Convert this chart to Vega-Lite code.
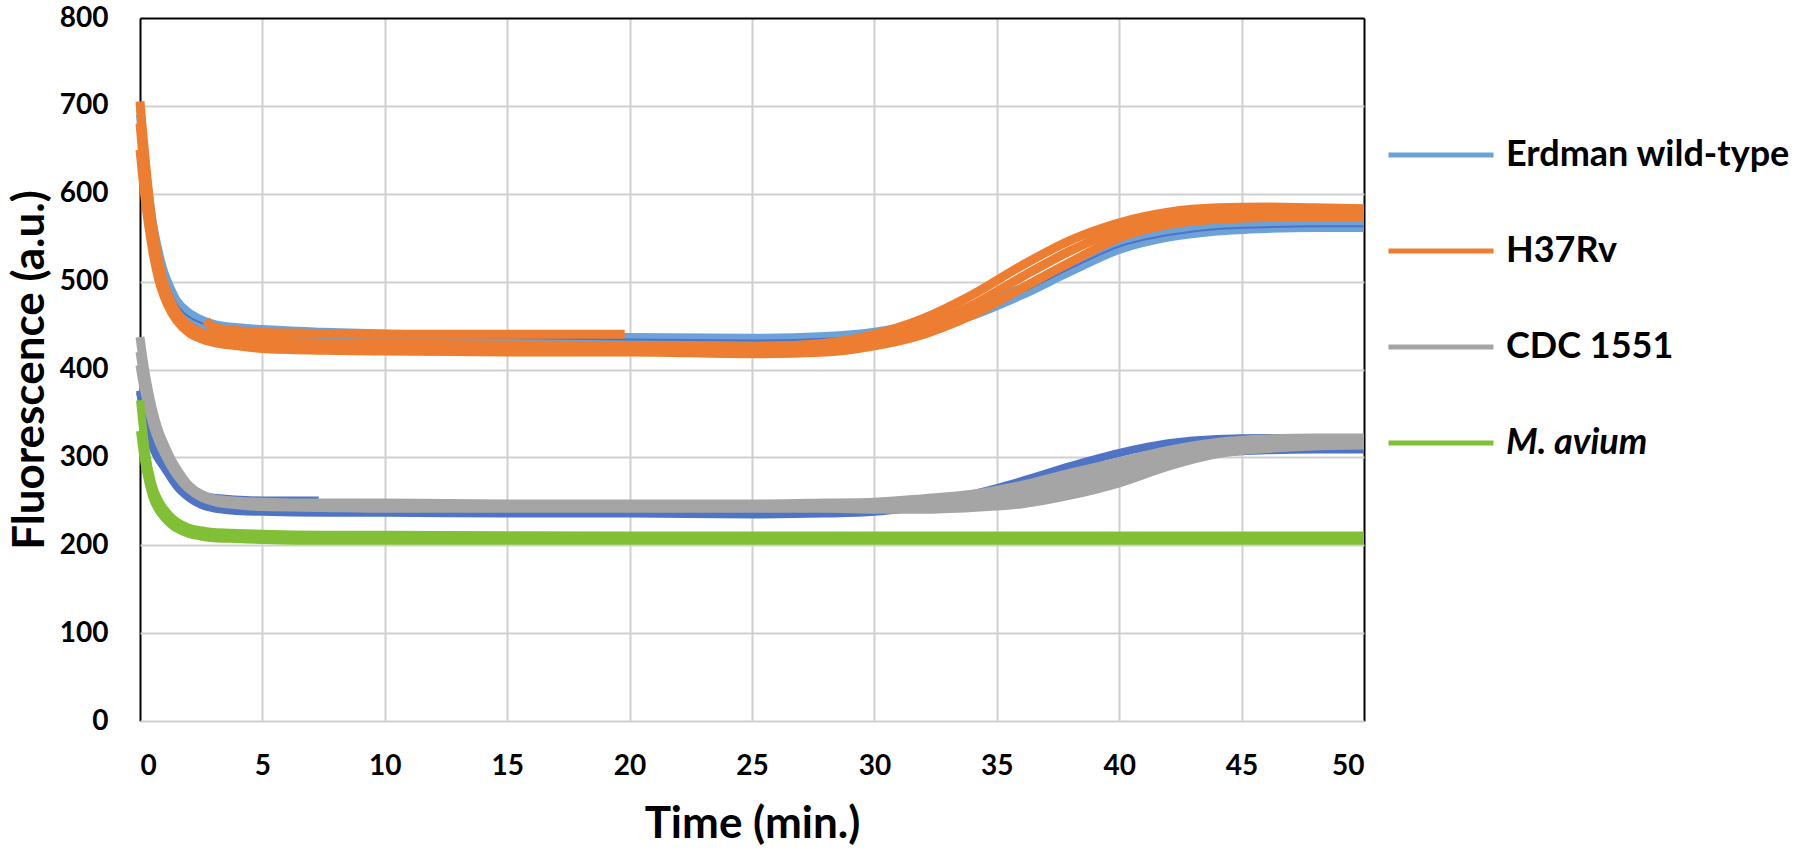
{
  "$schema": "https://vega.github.io/schema/vega-lite/v6.json",
  "width": 1224,
  "height": 703,
  "autosize": "none",
  "padding": {"left": 140, "top": 18, "right": 436, "bottom": 130},
  "background": "white",
  "config": {
    "view": {"stroke": null},
    "font": "Lato",
    "axis": {"labelFont": "Lato", "titleFont": "Lato", "labelFontWeight": "bold", "titleFontWeight": "bold", "labelColor": "#000000", "titleColor": "#000000", "ticks": false, "domain": false, "gridWidth": 2}
  },
  "data": {"values": [
    {"s":"B1","g":"Erdman wild-type","t":0,"v":698},{"s":"B1","g":"Erdman wild-type","t":0.1,"v":668},{"s":"B1","g":"Erdman wild-type","t":0.25,"v":626},{"s":"B1","g":"Erdman wild-type","t":0.5,"v":572},{"s":"B1","g":"Erdman wild-type","t":0.75,"v":536},{"s":"B1","g":"Erdman wild-type","t":1,"v":510},{"s":"B1","g":"Erdman wild-type","t":1.25,"v":493},{"s":"B1","g":"Erdman wild-type","t":1.5,"v":479},{"s":"B1","g":"Erdman wild-type","t":2,"v":465},{"s":"B1","g":"Erdman wild-type","t":2.5,"v":457},{"s":"B1","g":"Erdman wild-type","t":3,"v":452},{"s":"B1","g":"Erdman wild-type","t":4,"v":448},{"s":"B1","g":"Erdman wild-type","t":5,"v":446},{"s":"B1","g":"Erdman wild-type","t":7.5,"v":443},{"s":"B1","g":"Erdman wild-type","t":10,"v":441},{"s":"B1","g":"Erdman wild-type","t":15,"v":439},{"s":"B1","g":"Erdman wild-type","t":20,"v":437},{"s":"B1","g":"Erdman wild-type","t":25,"v":436},{"s":"B1","g":"Erdman wild-type","t":28,"v":438},{"s":"B1","g":"Erdman wild-type","t":30,"v":443},{"s":"B1","g":"Erdman wild-type","t":32,"v":454},{"s":"B1","g":"Erdman wild-type","t":34,"v":470},{"s":"B1","g":"Erdman wild-type","t":36,"v":493},{"s":"B1","g":"Erdman wild-type","t":38,"v":520},{"s":"B1","g":"Erdman wild-type","t":40,"v":544},{"s":"B1","g":"Erdman wild-type","t":42,"v":557},{"s":"B1","g":"Erdman wild-type","t":44,"v":563},{"s":"B1","g":"Erdman wild-type","t":46,"v":565},{"s":"B1","g":"Erdman wild-type","t":48,"v":566},{"s":"B1","g":"Erdman wild-type","t":50,"v":566},
    {"s":"B2","g":"Erdman wild-type","t":0,"v":690},{"s":"B2","g":"Erdman wild-type","t":0.1,"v":658},{"s":"B2","g":"Erdman wild-type","t":0.25,"v":615},{"s":"B2","g":"Erdman wild-type","t":0.5,"v":562},{"s":"B2","g":"Erdman wild-type","t":0.75,"v":526},{"s":"B2","g":"Erdman wild-type","t":1,"v":500},{"s":"B2","g":"Erdman wild-type","t":1.25,"v":483},{"s":"B2","g":"Erdman wild-type","t":1.5,"v":470},{"s":"B2","g":"Erdman wild-type","t":2,"v":456},{"s":"B2","g":"Erdman wild-type","t":2.5,"v":449},{"s":"B2","g":"Erdman wild-type","t":3,"v":445},{"s":"B2","g":"Erdman wild-type","t":4,"v":441},{"s":"B2","g":"Erdman wild-type","t":5,"v":439},{"s":"B2","g":"Erdman wild-type","t":7.5,"v":437},{"s":"B2","g":"Erdman wild-type","t":10,"v":435},{"s":"B2","g":"Erdman wild-type","t":15,"v":433},{"s":"B2","g":"Erdman wild-type","t":20,"v":431},{"s":"B2","g":"Erdman wild-type","t":25,"v":430},{"s":"B2","g":"Erdman wild-type","t":28,"v":432},{"s":"B2","g":"Erdman wild-type","t":30,"v":436},{"s":"B2","g":"Erdman wild-type","t":32,"v":446},{"s":"B2","g":"Erdman wild-type","t":34,"v":461},{"s":"B2","g":"Erdman wild-type","t":36,"v":484},{"s":"B2","g":"Erdman wild-type","t":38,"v":511},{"s":"B2","g":"Erdman wild-type","t":40,"v":536},{"s":"B2","g":"Erdman wild-type","t":42,"v":550},{"s":"B2","g":"Erdman wild-type","t":44,"v":557},{"s":"B2","g":"Erdman wild-type","t":46,"v":560},{"s":"B2","g":"Erdman wild-type","t":48,"v":561},{"s":"B2","g":"Erdman wild-type","t":50,"v":561},
    {"s":"Bd","g":"Replicate set 2","t":0,"v":694},{"s":"Bd","g":"Replicate set 2","t":0.1,"v":663},{"s":"Bd","g":"Replicate set 2","t":0.25,"v":620},{"s":"Bd","g":"Replicate set 2","t":0.5,"v":567},{"s":"Bd","g":"Replicate set 2","t":0.75,"v":531},{"s":"Bd","g":"Replicate set 2","t":1,"v":505},{"s":"Bd","g":"Replicate set 2","t":1.25,"v":488},{"s":"Bd","g":"Replicate set 2","t":1.5,"v":474},{"s":"Bd","g":"Replicate set 2","t":2,"v":460},{"s":"Bd","g":"Replicate set 2","t":2.5,"v":453},{"s":"Bd","g":"Replicate set 2","t":3,"v":448},{"s":"Bd","g":"Replicate set 2","t":4,"v":444},{"s":"Bd","g":"Replicate set 2","t":5,"v":442},{"s":"Bd","g":"Replicate set 2","t":7.5,"v":440},{"s":"Bd","g":"Replicate set 2","t":10,"v":438},{"s":"Bd","g":"Replicate set 2","t":15,"v":436},{"s":"Bd","g":"Replicate set 2","t":20,"v":434},{"s":"Bd","g":"Replicate set 2","t":25,"v":433},{"s":"Bd","g":"Replicate set 2","t":28,"v":435},{"s":"Bd","g":"Replicate set 2","t":30,"v":439},{"s":"Bd","g":"Replicate set 2","t":32,"v":450},{"s":"Bd","g":"Replicate set 2","t":34,"v":465},{"s":"Bd","g":"Replicate set 2","t":36,"v":488},{"s":"Bd","g":"Replicate set 2","t":38,"v":515},{"s":"Bd","g":"Replicate set 2","t":40,"v":540},{"s":"Bd","g":"Replicate set 2","t":42,"v":553},{"s":"Bd","g":"Replicate set 2","t":44,"v":560},{"s":"Bd","g":"Replicate set 2","t":46,"v":562},{"s":"Bd","g":"Replicate set 2","t":48,"v":563},{"s":"Bd","g":"Replicate set 2","t":50,"v":563},
    {"s":"O1","g":"H37Rv","t":0,"v":705},{"s":"O1","g":"H37Rv","t":0.1,"v":672},{"s":"O1","g":"H37Rv","t":0.25,"v":628},{"s":"O1","g":"H37Rv","t":0.5,"v":566},{"s":"O1","g":"H37Rv","t":0.75,"v":525},{"s":"O1","g":"H37Rv","t":1,"v":496},{"s":"O1","g":"H37Rv","t":1.25,"v":478},{"s":"O1","g":"H37Rv","t":1.5,"v":465},{"s":"O1","g":"H37Rv","t":2,"v":450},{"s":"O1","g":"H37Rv","t":2.5,"v":442},{"s":"O1","g":"H37Rv","t":3,"v":438},{"s":"O1","g":"H37Rv","t":4,"v":434},{"s":"O1","g":"H37Rv","t":5,"v":432},{"s":"O1","g":"H37Rv","t":7.5,"v":430},{"s":"O1","g":"H37Rv","t":10,"v":429},{"s":"O1","g":"H37Rv","t":15,"v":428},{"s":"O1","g":"H37Rv","t":20,"v":427},{"s":"O1","g":"H37Rv","t":25,"v":426},{"s":"O1","g":"H37Rv","t":28,"v":430},{"s":"O1","g":"H37Rv","t":30,"v":440},{"s":"O1","g":"H37Rv","t":32,"v":458},{"s":"O1","g":"H37Rv","t":34,"v":485},{"s":"O1","g":"H37Rv","t":36,"v":518},{"s":"O1","g":"H37Rv","t":38,"v":547},{"s":"O1","g":"H37Rv","t":40,"v":567},{"s":"O1","g":"H37Rv","t":42,"v":579},{"s":"O1","g":"H37Rv","t":44,"v":584},{"s":"O1","g":"H37Rv","t":46,"v":585},{"s":"O1","g":"H37Rv","t":48,"v":584},{"s":"O1","g":"H37Rv","t":50,"v":583},
    {"s":"O3","g":"H37Rv","t":0,"v":680},{"s":"O3","g":"H37Rv","t":0.1,"v":648},{"s":"O3","g":"H37Rv","t":0.25,"v":607},{"s":"O3","g":"H37Rv","t":0.5,"v":552},{"s":"O3","g":"H37Rv","t":0.75,"v":514},{"s":"O3","g":"H37Rv","t":1,"v":489},{"s":"O3","g":"H37Rv","t":1.25,"v":472},{"s":"O3","g":"H37Rv","t":1.5,"v":460},{"s":"O3","g":"H37Rv","t":2,"v":446},{"s":"O3","g":"H37Rv","t":2.5,"v":438},{"s":"O3","g":"H37Rv","t":3,"v":434},{"s":"O3","g":"H37Rv","t":4,"v":430},{"s":"O3","g":"H37Rv","t":5,"v":428},{"s":"O3","g":"H37Rv","t":7.5,"v":426},{"s":"O3","g":"H37Rv","t":10,"v":425},{"s":"O3","g":"H37Rv","t":15,"v":424},{"s":"O3","g":"H37Rv","t":20,"v":423},{"s":"O3","g":"H37Rv","t":25,"v":422},{"s":"O3","g":"H37Rv","t":28,"v":425},{"s":"O3","g":"H37Rv","t":30,"v":433},{"s":"O3","g":"H37Rv","t":32,"v":449},{"s":"O3","g":"H37Rv","t":34,"v":473},{"s":"O3","g":"H37Rv","t":36,"v":505},{"s":"O3","g":"H37Rv","t":38,"v":535},{"s":"O3","g":"H37Rv","t":40,"v":559},{"s":"O3","g":"H37Rv","t":42,"v":572},{"s":"O3","g":"H37Rv","t":44,"v":578},{"s":"O3","g":"H37Rv","t":46,"v":579},{"s":"O3","g":"H37Rv","t":48,"v":579},{"s":"O3","g":"H37Rv","t":50,"v":578},
    {"s":"O2","g":"H37Rv","t":0,"v":650},{"s":"O2","g":"H37Rv","t":0.1,"v":622},{"s":"O2","g":"H37Rv","t":0.25,"v":585},{"s":"O2","g":"H37Rv","t":0.5,"v":538},{"s":"O2","g":"H37Rv","t":0.75,"v":504},{"s":"O2","g":"H37Rv","t":1,"v":482},{"s":"O2","g":"H37Rv","t":1.25,"v":467},{"s":"O2","g":"H37Rv","t":1.5,"v":456},{"s":"O2","g":"H37Rv","t":2,"v":442},{"s":"O2","g":"H37Rv","t":2.5,"v":435},{"s":"O2","g":"H37Rv","t":3,"v":431},{"s":"O2","g":"H37Rv","t":4,"v":427},{"s":"O2","g":"H37Rv","t":5,"v":424},{"s":"O2","g":"H37Rv","t":7.5,"v":422},{"s":"O2","g":"H37Rv","t":10,"v":421},{"s":"O2","g":"H37Rv","t":15,"v":420},{"s":"O2","g":"H37Rv","t":20,"v":420},{"s":"O2","g":"H37Rv","t":25,"v":418},{"s":"O2","g":"H37Rv","t":28,"v":420},{"s":"O2","g":"H37Rv","t":30,"v":427},{"s":"O2","g":"H37Rv","t":32,"v":440},{"s":"O2","g":"H37Rv","t":34,"v":462},{"s":"O2","g":"H37Rv","t":36,"v":492},{"s":"O2","g":"H37Rv","t":38,"v":522},{"s":"O2","g":"H37Rv","t":40,"v":550},{"s":"O2","g":"H37Rv","t":42,"v":565},{"s":"O2","g":"H37Rv","t":44,"v":571},{"s":"O2","g":"H37Rv","t":46,"v":573},{"s":"O2","g":"H37Rv","t":48,"v":574},{"s":"O2","g":"H37Rv","t":50,"v":574},
    {"s":"O4","g":"H37Rv","t":2.7,"v":456},{"s":"O4","g":"H37Rv","t":3,"v":448},{"s":"O4","g":"H37Rv","t":4,"v":444},{"s":"O4","g":"H37Rv","t":5,"v":442},{"s":"O4","g":"H37Rv","t":7.5,"v":441},{"s":"O4","g":"H37Rv","t":10,"v":440},{"s":"O4","g":"H37Rv","t":15,"v":440},{"s":"O4","g":"H37Rv","t":19.8,"v":440},
    {"s":"D1","g":"Replicate set 2","t":0,"v":376},{"s":"D1","g":"Replicate set 2","t":0.1,"v":362},{"s":"D1","g":"Replicate set 2","t":0.25,"v":342},{"s":"D1","g":"Replicate set 2","t":0.5,"v":315},{"s":"D1","g":"Replicate set 2","t":0.75,"v":300},{"s":"D1","g":"Replicate set 2","t":1,"v":290},{"s":"D1","g":"Replicate set 2","t":1.25,"v":279},{"s":"D1","g":"Replicate set 2","t":1.5,"v":269},{"s":"D1","g":"Replicate set 2","t":2,"v":256},{"s":"D1","g":"Replicate set 2","t":2.5,"v":248},{"s":"D1","g":"Replicate set 2","t":3,"v":244},{"s":"D1","g":"Replicate set 2","t":4,"v":241},{"s":"D1","g":"Replicate set 2","t":5,"v":240},{"s":"D1","g":"Replicate set 2","t":7.5,"v":239},{"s":"D1","g":"Replicate set 2","t":10,"v":238},{"s":"D1","g":"Replicate set 2","t":15,"v":237},{"s":"D1","g":"Replicate set 2","t":20,"v":237},{"s":"D1","g":"Replicate set 2","t":25,"v":236},{"s":"D1","g":"Replicate set 2","t":28,"v":237},{"s":"D1","g":"Replicate set 2","t":30,"v":240},{"s":"D1","g":"Replicate set 2","t":32,"v":247},{"s":"D1","g":"Replicate set 2","t":34,"v":258},{"s":"D1","g":"Replicate set 2","t":36,"v":273},{"s":"D1","g":"Replicate set 2","t":38,"v":290},{"s":"D1","g":"Replicate set 2","t":40,"v":305},{"s":"D1","g":"Replicate set 2","t":42,"v":316},{"s":"D1","g":"Replicate set 2","t":44,"v":321},{"s":"D1","g":"Replicate set 2","t":46,"v":322},{"s":"D1","g":"Replicate set 2","t":48,"v":322},{"s":"D1","g":"Replicate set 2","t":50,"v":321},
    {"s":"D2","g":"Replicate set 2","t":0,"v":374},{"s":"D2","g":"Replicate set 2","t":0.1,"v":360},{"s":"D2","g":"Replicate set 2","t":0.25,"v":340},{"s":"D2","g":"Replicate set 2","t":0.5,"v":313},{"s":"D2","g":"Replicate set 2","t":0.75,"v":298},{"s":"D2","g":"Replicate set 2","t":1,"v":288},{"s":"D2","g":"Replicate set 2","t":1.25,"v":277},{"s":"D2","g":"Replicate set 2","t":1.5,"v":267},{"s":"D2","g":"Replicate set 2","t":2,"v":254},{"s":"D2","g":"Replicate set 2","t":2.5,"v":246},{"s":"D2","g":"Replicate set 2","t":3,"v":242},{"s":"D2","g":"Replicate set 2","t":4,"v":239},{"s":"D2","g":"Replicate set 2","t":5,"v":238},{"s":"D2","g":"Replicate set 2","t":7.5,"v":237},{"s":"D2","g":"Replicate set 2","t":10,"v":237},{"s":"D2","g":"Replicate set 2","t":15,"v":236},{"s":"D2","g":"Replicate set 2","t":20,"v":236},{"s":"D2","g":"Replicate set 2","t":25,"v":235},{"s":"D2","g":"Replicate set 2","t":28,"v":236},{"s":"D2","g":"Replicate set 2","t":30,"v":238},{"s":"D2","g":"Replicate set 2","t":32,"v":244},{"s":"D2","g":"Replicate set 2","t":34,"v":251},{"s":"D2","g":"Replicate set 2","t":36,"v":259},{"s":"D2","g":"Replicate set 2","t":38,"v":270},{"s":"D2","g":"Replicate set 2","t":40,"v":284},{"s":"D2","g":"Replicate set 2","t":42,"v":297},{"s":"D2","g":"Replicate set 2","t":44,"v":305},{"s":"D2","g":"Replicate set 2","t":46,"v":308},{"s":"D2","g":"Replicate set 2","t":48,"v":309},{"s":"D2","g":"Replicate set 2","t":50,"v":309},
    {"s":"D3","g":"Replicate set 2","t":2,"v":262},{"s":"D3","g":"Replicate set 2","t":3,"v":254},{"s":"D3","g":"Replicate set 2","t":5,"v":251},{"s":"D3","g":"Replicate set 2","t":7.3,"v":251},
    {"s":"G1","g":"CDC 1551","t":0,"v":437},{"s":"G1","g":"CDC 1551","t":0.1,"v":416},{"s":"G1","g":"CDC 1551","t":0.25,"v":390},{"s":"G1","g":"CDC 1551","t":0.5,"v":356},{"s":"G1","g":"CDC 1551","t":0.75,"v":331},{"s":"G1","g":"CDC 1551","t":1,"v":314},{"s":"G1","g":"CDC 1551","t":1.25,"v":299},{"s":"G1","g":"CDC 1551","t":1.5,"v":287},{"s":"G1","g":"CDC 1551","t":2,"v":268},{"s":"G1","g":"CDC 1551","t":2.5,"v":258},{"s":"G1","g":"CDC 1551","t":3,"v":253},{"s":"G1","g":"CDC 1551","t":4,"v":250},{"s":"G1","g":"CDC 1551","t":5,"v":249},{"s":"G1","g":"CDC 1551","t":7.5,"v":248},{"s":"G1","g":"CDC 1551","t":10,"v":248},{"s":"G1","g":"CDC 1551","t":15,"v":247},{"s":"G1","g":"CDC 1551","t":20,"v":247},{"s":"G1","g":"CDC 1551","t":25,"v":247},{"s":"G1","g":"CDC 1551","t":28,"v":248},{"s":"G1","g":"CDC 1551","t":30,"v":249},{"s":"G1","g":"CDC 1551","t":32,"v":253},{"s":"G1","g":"CDC 1551","t":34,"v":258},{"s":"G1","g":"CDC 1551","t":36,"v":268},{"s":"G1","g":"CDC 1551","t":38,"v":282},{"s":"G1","g":"CDC 1551","t":40,"v":295},{"s":"G1","g":"CDC 1551","t":42,"v":308},{"s":"G1","g":"CDC 1551","t":44,"v":317},{"s":"G1","g":"CDC 1551","t":46,"v":321},{"s":"G1","g":"CDC 1551","t":48,"v":322},{"s":"G1","g":"CDC 1551","t":50,"v":322},
    {"s":"G3","g":"CDC 1551","t":0,"v":420},{"s":"G3","g":"CDC 1551","t":0.1,"v":402},{"s":"G3","g":"CDC 1551","t":0.25,"v":379},{"s":"G3","g":"CDC 1551","t":0.5,"v":348},{"s":"G3","g":"CDC 1551","t":0.75,"v":325},{"s":"G3","g":"CDC 1551","t":1,"v":309},{"s":"G3","g":"CDC 1551","t":1.25,"v":295},{"s":"G3","g":"CDC 1551","t":1.5,"v":283},{"s":"G3","g":"CDC 1551","t":2,"v":266},{"s":"G3","g":"CDC 1551","t":2.5,"v":256},{"s":"G3","g":"CDC 1551","t":3,"v":251},{"s":"G3","g":"CDC 1551","t":4,"v":248},{"s":"G3","g":"CDC 1551","t":5,"v":246},{"s":"G3","g":"CDC 1551","t":7.5,"v":245},{"s":"G3","g":"CDC 1551","t":10,"v":245},{"s":"G3","g":"CDC 1551","t":15,"v":244},{"s":"G3","g":"CDC 1551","t":20,"v":244},{"s":"G3","g":"CDC 1551","t":25,"v":244},{"s":"G3","g":"CDC 1551","t":28,"v":245},{"s":"G3","g":"CDC 1551","t":30,"v":245},{"s":"G3","g":"CDC 1551","t":32,"v":247},{"s":"G3","g":"CDC 1551","t":34,"v":250},{"s":"G3","g":"CDC 1551","t":36,"v":257},{"s":"G3","g":"CDC 1551","t":38,"v":269},{"s":"G3","g":"CDC 1551","t":40,"v":283},{"s":"G3","g":"CDC 1551","t":42,"v":299},{"s":"G3","g":"CDC 1551","t":44,"v":310},{"s":"G3","g":"CDC 1551","t":46,"v":316},{"s":"G3","g":"CDC 1551","t":48,"v":318},{"s":"G3","g":"CDC 1551","t":50,"v":318},
    {"s":"G4","g":"CDC 1551","t":30,"v":243},{"s":"G4","g":"CDC 1551","t":32,"v":244},{"s":"G4","g":"CDC 1551","t":34,"v":246},{"s":"G4","g":"CDC 1551","t":36,"v":252},{"s":"G4","g":"CDC 1551","t":38,"v":263},{"s":"G4","g":"CDC 1551","t":40,"v":277},{"s":"G4","g":"CDC 1551","t":42,"v":294},{"s":"G4","g":"CDC 1551","t":44,"v":307},{"s":"G4","g":"CDC 1551","t":46,"v":313},{"s":"G4","g":"CDC 1551","t":48,"v":316},{"s":"G4","g":"CDC 1551","t":50,"v":316},
    {"s":"G5","g":"CDC 1551","t":30,"v":247},{"s":"G5","g":"CDC 1551","t":32,"v":250},{"s":"G5","g":"CDC 1551","t":34,"v":254},{"s":"G5","g":"CDC 1551","t":36,"v":262},{"s":"G5","g":"CDC 1551","t":38,"v":276},{"s":"G5","g":"CDC 1551","t":40,"v":289},{"s":"G5","g":"CDC 1551","t":42,"v":304},{"s":"G5","g":"CDC 1551","t":44,"v":314},{"s":"G5","g":"CDC 1551","t":46,"v":319},{"s":"G5","g":"CDC 1551","t":48,"v":320},{"s":"G5","g":"CDC 1551","t":50,"v":320},
    {"s":"G2","g":"CDC 1551","t":0,"v":405},{"s":"G2","g":"CDC 1551","t":0.1,"v":388},{"s":"G2","g":"CDC 1551","t":0.25,"v":368},{"s":"G2","g":"CDC 1551","t":0.5,"v":340},{"s":"G2","g":"CDC 1551","t":0.75,"v":319},{"s":"G2","g":"CDC 1551","t":1,"v":304},{"s":"G2","g":"CDC 1551","t":1.25,"v":291},{"s":"G2","g":"CDC 1551","t":1.5,"v":280},{"s":"G2","g":"CDC 1551","t":2,"v":264},{"s":"G2","g":"CDC 1551","t":2.5,"v":255},{"s":"G2","g":"CDC 1551","t":3,"v":250},{"s":"G2","g":"CDC 1551","t":4,"v":246},{"s":"G2","g":"CDC 1551","t":5,"v":244},{"s":"G2","g":"CDC 1551","t":7.5,"v":243},{"s":"G2","g":"CDC 1551","t":10,"v":242},{"s":"G2","g":"CDC 1551","t":15,"v":242},{"s":"G2","g":"CDC 1551","t":20,"v":242},{"s":"G2","g":"CDC 1551","t":25,"v":242},{"s":"G2","g":"CDC 1551","t":28,"v":242},{"s":"G2","g":"CDC 1551","t":30,"v":241},{"s":"G2","g":"CDC 1551","t":32,"v":241},{"s":"G2","g":"CDC 1551","t":34,"v":243},{"s":"G2","g":"CDC 1551","t":36,"v":247},{"s":"G2","g":"CDC 1551","t":38,"v":257},{"s":"G2","g":"CDC 1551","t":40,"v":271},{"s":"G2","g":"CDC 1551","t":42,"v":290},{"s":"G2","g":"CDC 1551","t":44,"v":304},{"s":"G2","g":"CDC 1551","t":46,"v":310},{"s":"G2","g":"CDC 1551","t":48,"v":313},{"s":"G2","g":"CDC 1551","t":50,"v":314},
    {"s":"Gr1","g":"M. avium","t":0,"v":365},{"s":"Gr1","g":"M. avium","t":0.1,"v":338},{"s":"Gr1","g":"M. avium","t":0.25,"v":305},{"s":"Gr1","g":"M. avium","t":0.5,"v":270},{"s":"Gr1","g":"M. avium","t":0.75,"v":252},{"s":"Gr1","g":"M. avium","t":1,"v":241},{"s":"Gr1","g":"M. avium","t":1.25,"v":233},{"s":"Gr1","g":"M. avium","t":1.5,"v":227},{"s":"Gr1","g":"M. avium","t":2,"v":220},{"s":"Gr1","g":"M. avium","t":2.5,"v":217},{"s":"Gr1","g":"M. avium","t":3,"v":215},{"s":"Gr1","g":"M. avium","t":4,"v":214},{"s":"Gr1","g":"M. avium","t":5,"v":213},{"s":"Gr1","g":"M. avium","t":7.5,"v":212},{"s":"Gr1","g":"M. avium","t":10,"v":212},{"s":"Gr1","g":"M. avium","t":20,"v":211},{"s":"Gr1","g":"M. avium","t":30,"v":211},{"s":"Gr1","g":"M. avium","t":40,"v":211},{"s":"Gr1","g":"M. avium","t":50,"v":211},
    {"s":"Gr2","g":"M. avium","t":0,"v":330},{"s":"Gr2","g":"M. avium","t":0.1,"v":308},{"s":"Gr2","g":"M. avium","t":0.25,"v":283},{"s":"Gr2","g":"M. avium","t":0.5,"v":255},{"s":"Gr2","g":"M. avium","t":0.75,"v":240},{"s":"Gr2","g":"M. avium","t":1,"v":231},{"s":"Gr2","g":"M. avium","t":1.25,"v":224},{"s":"Gr2","g":"M. avium","t":1.5,"v":219},{"s":"Gr2","g":"M. avium","t":2,"v":213},{"s":"Gr2","g":"M. avium","t":2.5,"v":210},{"s":"Gr2","g":"M. avium","t":3,"v":208},{"s":"Gr2","g":"M. avium","t":4,"v":207},{"s":"Gr2","g":"M. avium","t":5,"v":206},{"s":"Gr2","g":"M. avium","t":7.5,"v":205},{"s":"Gr2","g":"M. avium","t":10,"v":205},{"s":"Gr2","g":"M. avium","t":20,"v":205},{"s":"Gr2","g":"M. avium","t":30,"v":205},{"s":"Gr2","g":"M. avium","t":40,"v":205},{"s":"Gr2","g":"M. avium","t":50,"v":205}
  ]},
  "encoding": {
    "x": {"field": "t", "type": "quantitative", "scale": {"domain": [0, 50], "nice": false},
      "axis": {"title": "Time (min.)", "values": [0,5,10,15,20,25,30,35,40,45,50], "labelFontSize": 28, "labelPadding": 31, "titleFontSize": 44, "titleBaseline": "alphabetic", "titleY": 116, "titlePadding": 0,
        "gridColor": {"condition": {"test": "datum.value == 0 || datum.value == 50", "value": "#000000"}, "value": "#D0D0D0"}}},
    "y": {"field": "v", "type": "quantitative", "scale": {"domain": [0, 800], "nice": false},
      "axis": {"title": "Fluorescence (a.u.)", "values": [0,100,200,300,400,500,600,700,800], "labelFontSize": 28, "labelPadding": 32, "titleFontSize": 44, "titleBaseline": "alphabetic", "titleX": -97, "titleAngle": 270,
        "gridColor": {"condition": {"test": "datum.value == 800", "value": "#000000"}, "value": "#D0D0D0"}}},
    "color": {"field": "g", "type": "nominal",
      "scale": {"domain": ["Erdman wild-type", "H37Rv", "CDC 1551", "M. avium", "Replicate set 2"], "range": ["#6CA2D8", "#ED7D31", "#A5A5A5", "#80BF36", "#4F74C6"]},
      "legend": {"values": ["Erdman wild-type", "H37Rv", "CDC 1551", "M. avium"], "title": null, "orient": "none", "legendX": 1246, "legendY": 82,
        "symbolType": "stroke", "symbolSize": 11025, "symbolStrokeWidth": 5, "labelFont": "Lato", "labelFontWeight": "bold", "labelFontSize": 36, "labelColor": "#000000", "labelOffset": 10, "labelLimit": 500, "rowPadding": 23,
        "encode": {"labels": {"update": {"fontStyle": {"signal": "datum.label === 'M. avium' ? 'italic' : 'normal'"}}}}}},
    "detail": {"field": "s", "type": "nominal"},
    "order": {"field": "t", "type": "quantitative"}
  },
  "layer": [
    {"transform": [{"filter": "datum.g === 'Erdman wild-type'"}], "mark": {"type": "line", "strokeWidth": 8, "interpolate": "monotone"}},
    {"transform": [{"filter": "datum.s === 'Bd'"}], "mark": {"type": "line", "strokeWidth": 2, "interpolate": "monotone"}},
    {"transform": [{"filter": "datum.g === 'Replicate set 2' && datum.s !== 'Bd'"}], "mark": {"type": "line", "strokeWidth": 8, "interpolate": "monotone"}},
    {"transform": [{"filter": "datum.g === 'H37Rv'"}], "mark": {"type": "line", "strokeWidth": 9, "interpolate": "monotone"}},
    {"transform": [{"filter": "datum.g === 'CDC 1551'"}], "mark": {"type": "line", "strokeWidth": 9, "interpolate": "monotone"}},
    {"transform": [{"filter": "datum.g === 'M. avium'"}], "mark": {"type": "line", "strokeWidth": 8, "interpolate": "monotone"}}
  ]
}
